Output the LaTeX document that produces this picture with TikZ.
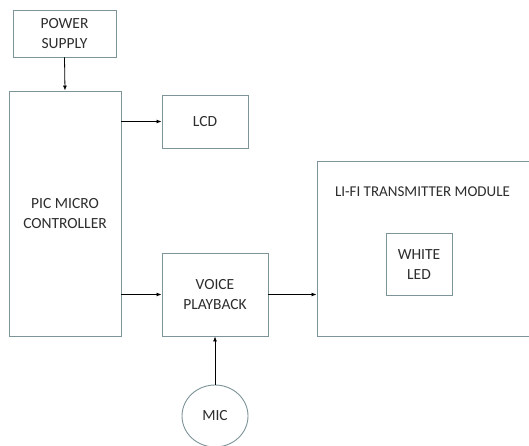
\documentclass[tikz,border=0pt]{standalone}
\usepackage{fontspec}
\setmainfont{Carlito}
\usetikzlibrary{arrows.meta,shapes.geometric}
\definecolor{boxline}{RGB}{125,148,152}
\definecolor{txt}{RGB}{45,45,45}
\begin{document}
\begin{tikzpicture}[x=1pt,y=-1pt,
  blk/.style={draw=boxline,line width=0.9pt,fill=white,inner sep=0pt,
    font=\fontsize{15.5}{20}\selectfont,text=txt,align=center},
  arr/.style={draw=black,line width=0.8pt,-{Latex[length=5pt,width=4pt]}}]
\useasboundingbox (0,0) rectangle (529,446);
\begin{scope}
\clip (0,0) rectangle (529,446);
\node[blk,minimum width=103pt,minimum height=47pt] (power) at (64.5,33.5) {POWER\\SUPPLY};
\node[blk,minimum width=112pt,minimum height=245pt] (pic) at (65,213.5) {PIC MICRO\\CONTROLLER};
\node[blk,minimum width=86pt,minimum height=53pt] (lcd) at (205,121.5) {LCD};
\node[blk,minimum width=106pt,minimum height=83pt] (voice) at (215,294.5) {VOICE\\PLAYBACK};
\node[blk,minimum width=253pt,minimum height=175pt] (lifi) at (443.5,248.5) {};
\node[font=\fontsize{15}{20}\selectfont,text=txt,inner sep=0pt] (lifititle) at (422.5,192) {LI-FI TRANSMITTER MODULE};
\node[blk,minimum width=66pt,minimum height=62pt] (led) at (419,264.5) {WHITE\\LED};
\node[blk,ellipse,minimum width=66pt,minimum height=62pt] (mic) at (215,416) {MIC};
\draw[arr] (power.south) -- (pic.north);
\draw[arr] (pic.east |- lcd.center) -- (lcd.west);
\draw[arr] (pic.east |- voice.center) -- (voice.west);
\draw[arr] (voice.east) -- (lifi.west |- voice.east);
\draw[arr] (mic.north) -- (voice.south);
\end{scope}
\end{tikzpicture}
\end{document}
